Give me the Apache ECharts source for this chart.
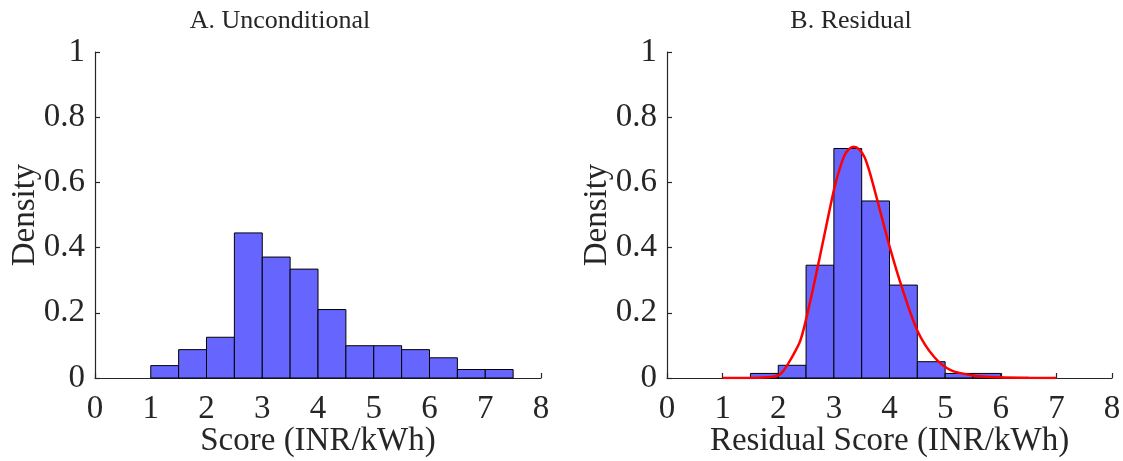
<!DOCTYPE html>
<html><head><meta charset="utf-8">
<script src="https://cdn.jsdelivr.net/npm/echarts@6/dist/echarts.min.js"></script>
<style>html,body{margin:0;padding:0;background:#fff}#c{width:1123px;height:461px}</style>
</head><body><div id="c"></div>
<script>
const panelTitles = ['A. Unconditional', 'B. Residual'];
const xAxisNames = ['Score (INR/kWh)', 'Residual Score (INR/kWh)'];
const yAxisName = 'Density';
const binWidth = 0.5;
const uncondBinStarts = [1, 1.5, 2, 2.5, 3, 3.5, 4, 4.5, 5, 5.5, 6, 6.5, 7];
const uncondDensity   = [0.038, 0.087, 0.125, 0.445, 0.371, 0.334, 0.210, 0.099, 0.099, 0.087, 0.062, 0.026, 0.026];
const residBinStarts  = [1.5, 2, 2.5, 3, 3.5, 4, 4.5, 5, 5.5];
const residDensity    = [0.014, 0.039, 0.346, 0.704, 0.543, 0.285, 0.050, 0.014, 0.014];
const fitX = [1, 1.5, 1.8, 2, 2.1, 2.22, 2.4, 2.58, 2.76, 2.91, 3.03, 3.18, 3.27, 3.36, 3.45, 3.55, 3.65, 3.78, 3.9, 4.02, 4.2, 4.5, 4.8, 5.1, 5.5, 6, 6.5, 7];
const fitY = [0, 0, 0.002, 0.008, 0.024, 0.056, 0.116, 0.239, 0.382, 0.505, 0.597, 0.679, 0.702, 0.709, 0.702, 0.678, 0.628, 0.546, 0.468, 0.392, 0.290, 0.146, 0.065, 0.024, 0.008, 0.002, 0.0005, 0];
const xMin = 0, xMax = 8, xStep = 1;
const yMin = 0, yMax = 1, yStep = 0.2;

const FONT = 'Liberation Serif';
const AX = '#262626';

function histData(starts, dens) {
  return starts.map((s, i) => [s, s + binWidth, dens[i]]);
}
function histItem(params, api) {
  const x0 = api.value(0), x1 = api.value(1), h = api.value(2);
  const p0 = api.coord([x0, h]);
  const p1 = api.coord([x1, 0]);
  return {
    type: 'rect',
    shape: { x: p0[0], y: p0[1], width: p1[0] - p0[0], height: p1[1] - p0[1] },
    style: { fill: '#6666ff', stroke: '#000', lineWidth: 1 }
  };
}
function xAx(i) {
  return {
    type: 'value', gridIndex: i, min: xMin, max: xMax, interval: xStep,
    name: xAxisNames[i], nameLocation: 'middle', nameGap: 47, nameMoveOverlap: false,
    nameTextStyle: { fontFamily: FONT, fontSize: 33, color: '#262626' },
    axisLine: { show: true, onZero: false, lineStyle: { color: AX, width: 1.2 } },
    axisTick: { show: true, inside: true, length: 5, lineStyle: { color: AX, width: 1.2 } },
    axisLabel: { fontFamily: FONT, fontSize: 33, color: '#262626', margin: 15 },
    splitLine: { show: false }
  };
}
function yAx(i) {
  return {
    type: 'value', gridIndex: i, min: yMin, max: yMax, interval: yStep,
    name: yAxisName, nameLocation: 'middle', nameGap: 53, nameRotate: 90, nameMoveOverlap: false,
    nameTextStyle: { fontFamily: FONT, fontSize: 33, color: '#262626' },
    axisLine: { show: true, lineStyle: { color: AX, width: 1.2 } },
    axisTick: { show: true, inside: true, length: 5, lineStyle: { color: AX, width: 1.2 } },
    axisLabel: { fontFamily: FONT, fontSize: 33, color: '#262626', margin: 10 },
    splitLine: { show: false }
  };
}

const chart = echarts.init(document.getElementById('c'), null, { renderer: 'canvas' });
chart.setOption({
  backgroundColor: '#fff',
  animation: false,
  grid: [
    { left: 95, top: 52, width: 446, height: 326, containLabel: false, outerBoundsMode: 'none' },
    { left: 667, top: 52, width: 445, height: 326, containLabel: false, outerBoundsMode: 'none' }
  ],
  xAxis: [xAx(0), xAx(1)],
  yAxis: [yAx(0), yAx(1)],
  graphic: [
    { type: 'text', x: 280, y: 21, style: { text: panelTitles[0], font: '26px "' + FONT + '"', fill: '#262626', align: 'center', verticalAlign: 'middle' } },
    { type: 'text', x: 851, y: 21, style: { text: panelTitles[1], font: '26px "' + FONT + '"', fill: '#262626', align: 'center', verticalAlign: 'middle' } }
  ],
  series: [
    { type: 'custom', xAxisIndex: 0, yAxisIndex: 0, renderItem: histItem, encode: { x: [0, 1], y: 2 }, data: histData(uncondBinStarts, uncondDensity) },
    { type: 'custom', xAxisIndex: 1, yAxisIndex: 1, renderItem: histItem, encode: { x: [0, 1], y: 2 }, data: histData(residBinStarts, residDensity) },
    { type: 'line', xAxisIndex: 1, yAxisIndex: 1, data: fitX.map((x, i) => [x, fitY[i]]), smooth: 0.3, showSymbol: false, symbol: 'none',
      lineStyle: { color: '#ff0000', width: 2.5 }, z: 5 }
  ]
});
</script></body></html>
